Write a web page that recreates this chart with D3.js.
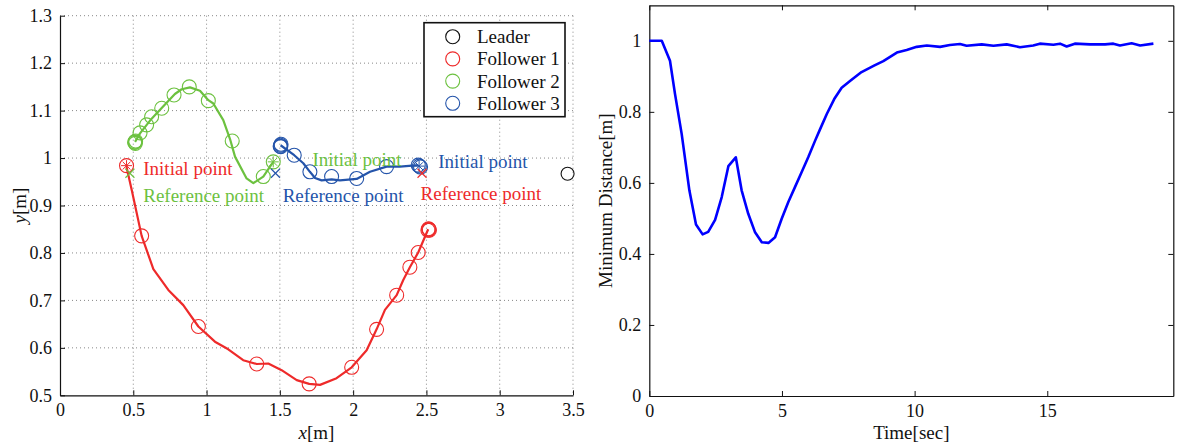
<!DOCTYPE html>
<html><head><meta charset="utf-8">
<script src="https://cdn.jsdelivr.net/npm/d3@7"></script>
<style>
body{margin:0;background:#fff;}
svg{display:block;font-family:"Liberation Serif","Times New Roman",serif;}
</style></head>
<body>
<svg id="c" width="1177" height="446"></svg>
<script>
// ---------- Left plot data (trajectories) ----------
const xTicksL = [0,0.5,1,1.5,2,2.5,3,3.5];
const yTicksL = [0.5,0.6,0.7,0.8,0.9,1,1.1,1.2,1.3];

const f1LineX = [0.454,0.489,0.557,0.637,0.739,0.841,0.944,1.057,1.148,1.25,1.342,1.421,1.512,1.615,1.70,1.774,1.887,1.99,2.092,2.16,2.217,2.297,2.342,2.387,2.444,2.512];
const f1LineY = [0.981,0.933,0.836,0.766,0.722,0.690,0.645,0.613,0.597,0.574,0.566,0.567,0.553,0.532,0.524,0.522,0.536,0.559,0.595,0.639,0.680,0.711,0.743,0.770,0.801,0.850];
const f1CircX = [0.454,0.557,0.944,1.342,1.70,1.99,2.16,2.297,2.387,2.444,2.510,2.514,2.518,2.520];
const f1CircY = [0.984,0.836,0.645,0.566,0.524,0.559,0.639,0.711,0.770,0.801,0.848,0.851,0.850,0.848];

const f2LineX = [1.455,1.387,1.319,1.273,1.194,1.160,1.114,1.046,1.012,0.955,0.887,0.830,0.784,0.705,0.625,0.546,0.512];
const f2LineY = [0.992,0.961,0.947,0.957,1.003,1.040,1.080,1.115,1.122,1.142,1.149,1.145,1.135,1.109,1.083,1.052,1.034];
const f2CircX = [1.455,1.387,1.175,1.012,0.882,0.778,0.694,0.625,0.591,0.546,0.516,0.512,0.509,0.514];
const f2CircY = [0.992,0.961,1.036,1.121,1.150,1.133,1.105,1.087,1.070,1.053,1.036,1.034,1.033,1.031];

const f3LineX = [2.444,2.319,2.228,2.115,2.024,1.91,1.853,1.785,1.74,1.705,1.66,1.598,1.505];
const f3LineY = [0.985,0.982,0.982,0.971,0.956,0.953,0.955,0.953,0.958,0.971,0.989,1.006,1.027];
const f3CircX = [2.444,2.452,2.460,2.228,2.024,1.853,1.705,1.598,1.508,1.505,1.502,1.506];
const f3CircY = [0.985,0.983,0.981,0.982,0.957,0.961,0.971,1.006,1.029,1.027,1.025,1.024];

const leaderX = [3.463];
const leaderY = [0.967];

// initial points (asterisk) and reference points (x)
const initX = [0.454,1.455,2.450];
const initY = [0.984,0.992,0.983];
const refX  = [2.470,0.477,1.470];
const refY  = [0.968,0.968,0.968];

const seriesNames = ["Leader","Follower 1","Follower 2","Follower 3"];
const seriesColors = ["#111111","#ee2a2a","#6cc13f","#2454aa"];

// annotation labels [text, x-data anchor, y-data anchor, colour index]
const annText = ["Initial point","Reference point","Initial point","Reference point","Initial point","Reference point"];
const annX = [0.568,0.568,1.722,1.519,2.581,2.460];
const annY = [0.964,0.907,0.984,0.908,0.978,0.911];
const annC = [1,2,2,3,3,1];

// ---------- Right plot data ----------
const timeS = [0,0.47,0.78,0.97,1.22,1.51,1.76,2.01,2.22,2.48,2.73,2.98,3.26,3.48,3.73,3.98,4.24,4.49,4.74,4.99,5.24,5.49,5.74,5.99,6.25,6.43,6.69,6.97,7.25,7.6,8.0,8.47,8.82,9.33,9.70,10.08,10.46,10.96,11.33,11.71,11.96,12.53,12.97,13.47,13.97,14.47,14.72,15.23,15.48,15.73,16.04,16.61,17.18,17.49,17.74,18.18,18.5,19.0];
const minDist = [1.0,1.0,0.944,0.850,0.738,0.579,0.483,0.455,0.462,0.496,0.56,0.647,0.672,0.579,0.513,0.462,0.433,0.431,0.447,0.499,0.546,0.588,0.630,0.672,0.719,0.750,0.794,0.836,0.868,0.889,0.912,0.930,0.943,0.967,0.974,0.983,0.987,0.983,0.988,0.991,0.986,0.990,0.986,0.990,0.982,0.987,0.992,0.989,0.992,0.984,0.992,0.990,0.990,0.992,0.987,0.993,0.987,0.992];
const xTicksR = [0,5,10,15];
const yTicksR = [0,0.2,0.4,0.6,0.8,1];

const svg = d3.select("#c");
const fmt = d => String(d);

// ================= LEFT PLOT =================
const L = {l:60, r:573, t:15.7, b:395.3};
const xL = d3.scaleLinear().domain([0,3.5]).range([L.l,L.r]);
const yL = d3.scaleLinear().domain([0.5,1.3]).range([L.b,L.t]);
const gL = svg.append("g");

// grid
gL.append("g").selectAll("line").data(xTicksL.filter(d=>d>0)).join("line")
  .attr("x1",d=>xL(d)).attr("x2",d=>xL(d)).attr("y1",L.t).attr("y2",L.b)
  .attr("stroke","#888").attr("stroke-width",1).attr("stroke-dasharray","1,3");
gL.append("g").selectAll("line").data(yTicksL.filter(d=>d>0.5)).join("line")
  .attr("y1",d=>yL(d)).attr("y2",d=>yL(d)).attr("x1",L.l).attr("x2",L.r)
  .attr("stroke","#888").attr("stroke-width",1).attr("stroke-dasharray","1,3");

// axes
const axXL = d3.axisBottom(xL).tickValues(xTicksL).tickFormat(fmt).tickSizeInner(-5).tickSizeOuter(0).tickPadding(8);
const axYL = d3.axisLeft(yL).tickValues(yTicksL).tickFormat(fmt).tickSizeInner(-5).tickSizeOuter(0).tickPadding(8);
const gx = gL.append("g").attr("transform",`translate(0,${L.b})`).call(axXL);
const gy = gL.append("g").attr("transform",`translate(${L.l},0)`).call(axYL);
[gx,gy].forEach(g=>{
  g.selectAll("text").attr("font-size",18).attr("font-family","Liberation Serif").attr("fill","#111");
  g.select(".domain").attr("stroke","#111").attr("stroke-width",1.2);
  g.selectAll(".tick line").attr("stroke","#111");
});

// trajectories
const line = d3.line().x(d=>xL(d[0])).y(d=>yL(d[1]));
const series = [
  {lx:f1LineX,ly:f1LineY,cx:f1CircX,cy:f1CircY,c:seriesColors[1]},
  {lx:f2LineX,ly:f2LineY,cx:f2CircX,cy:f2CircY,c:seriesColors[2]},
  {lx:f3LineX,ly:f3LineY,cx:f3CircX,cy:f3CircY,c:seriesColors[3]}
];
series.forEach(s=>{
  gL.append("path").datum(d3.zip(s.lx,s.ly)).attr("d",line)
    .attr("fill","none").attr("stroke",s.c).attr("stroke-width",2.2).attr("stroke-linejoin","round");
  gL.append("g").selectAll("circle").data(d3.zip(s.cx,s.cy)).join("circle")
    .attr("cx",d=>xL(d[0])).attr("cy",d=>yL(d[1])).attr("r",7)
    .attr("fill","none").attr("stroke",s.c).attr("stroke-width",1.1);
});
// leader
gL.append("g").selectAll("circle").data(d3.zip(leaderX,leaderY)).join("circle")
  .attr("cx",d=>xL(d[0])).attr("cy",d=>yL(d[1])).attr("r",6.5)
  .attr("fill","none").attr("stroke",seriesColors[0]).attr("stroke-width",1.1);

// asterisks at initial points
initX.forEach((x,i)=>{
  const cx=xL(x), cy=yL(initY[i]), c=seriesColors[i+1], r=5.5;
  const g=gL.append("g");
  [0,45,90,135].forEach(a=>{
    const rad=a*Math.PI/180;
    g.append("line").attr("x1",cx-r*Math.cos(rad)).attr("y1",cy-r*Math.sin(rad))
      .attr("x2",cx+r*Math.cos(rad)).attr("y2",cy+r*Math.sin(rad))
      .attr("stroke",c).attr("stroke-width",1);
  });
});
// reference x markers
const refCol=[seriesColors[1],seriesColors[2],seriesColors[3]];
refX.forEach((x,i)=>{
  const cx=xL(x), cy=yL(refY[i]), r=4.5;
  const g=gL.append("g");
  g.append("line").attr("x1",cx-r).attr("y1",cy-r).attr("x2",cx+r).attr("y2",cy+r).attr("stroke",refCol[i]).attr("stroke-width",1.2);
  g.append("line").attr("x1",cx-r).attr("y1",cy+r).attr("x2",cx+r).attr("y2",cy-r).attr("stroke",refCol[i]).attr("stroke-width",1.2);
});

// annotations
gL.append("g").selectAll("text").data(annText).join("text")
  .attr("x",(d,i)=>xL(annX[i])).attr("y",(d,i)=>yL(annY[i]))
  .attr("fill",(d,i)=>seriesColors[annC[i]]).attr("font-size",19).text(d=>d);

// legend
const lg = gL.append("g");
lg.append("rect").attr("x",424).attr("y",22.7).attr("width",141).attr("height",94)
  .attr("fill","#fff").attr("stroke","#111").attr("stroke-width",1.6);
seriesNames.forEach((n,i)=>{
  const yy=36.7+i*22.2;
  lg.append("circle").attr("cx",452.7).attr("cy",yy).attr("r",7).attr("fill","none")
    .attr("stroke",seriesColors[i]).attr("stroke-width",1.1);
  lg.append("text").attr("x",477).attr("y",yy+6.5).attr("font-size",19).attr("fill","#111").text(n);
});

// axis labels
const xl = gL.append("text").attr("x",(L.l+L.r)/2).attr("y",439).attr("text-anchor","middle").attr("font-size",19).attr("fill","#111");
xl.append("tspan").attr("font-style","italic").text("x");
xl.append("tspan").text("[m]");
const yl = gL.append("text").attr("transform",`translate(26,${(L.t+L.b)/2}) rotate(-90)`).attr("text-anchor","middle").attr("font-size",19).attr("fill","#111");
yl.append("tspan").attr("font-style","italic").text("y");
yl.append("tspan").text("[m]");

// ================= RIGHT PLOT =================
const R = {l:649.3, r:1173.3, t:5.3, b:396};
const xR = d3.scaleLinear().domain([0,19.75]).range([R.l,R.r]);
const yR = d3.scaleLinear().domain([0,1.1]).range([R.b,R.t]);
const gR = svg.append("g");
const axXR = d3.axisBottom(xR).tickValues(xTicksR).tickFormat(fmt).tickSizeInner(-5).tickSizeOuter(0).tickPadding(8);
const axYR = d3.axisLeft(yR).tickValues(yTicksR).tickFormat(fmt).tickSizeInner(-5).tickSizeOuter(0).tickPadding(8);
const axXRt = d3.axisTop(xR).tickValues(xTicksR).tickFormat("").tickSizeInner(-5).tickSizeOuter(0);
const axYRr = d3.axisRight(yR).tickValues(yTicksR).tickFormat("").tickSizeInner(-5).tickSizeOuter(0);
const a1=gR.append("g").attr("transform",`translate(0,${R.b})`).call(axXR);
const a2=gR.append("g").attr("transform",`translate(${R.l},0)`).call(axYR);
const a3=gR.append("g").attr("transform",`translate(0,${R.t})`).call(axXRt);
const a4=gR.append("g").attr("transform",`translate(${R.r},0)`).call(axYRr);
[a1,a2,a3,a4].forEach(g=>{
  g.selectAll("text").attr("font-size",18).attr("font-family","Liberation Serif").attr("fill","#111");
  g.select(".domain").attr("stroke","#111").attr("stroke-width",1.2);
  g.selectAll(".tick line").attr("stroke","#111");
});
gR.append("path").datum(d3.zip(timeS,minDist))
  .attr("d",d3.line().x(d=>xR(d[0])).y(d=>yR(d[1])))
  .attr("fill","none").attr("stroke","#0000ff").attr("stroke-width",2.6).attr("stroke-linejoin","round");
gR.append("text").attr("x",(R.l+R.r)/2).attr("y",439).attr("text-anchor","middle").attr("font-size",19).attr("fill","#111").text("Time[sec]");
gR.append("text").attr("transform",`translate(612,${(R.t+R.b)/2}) rotate(-90)`).attr("text-anchor","middle").attr("font-size",19).attr("fill","#111").text("Minimum Distance[m]");
</script>
</body></html>
